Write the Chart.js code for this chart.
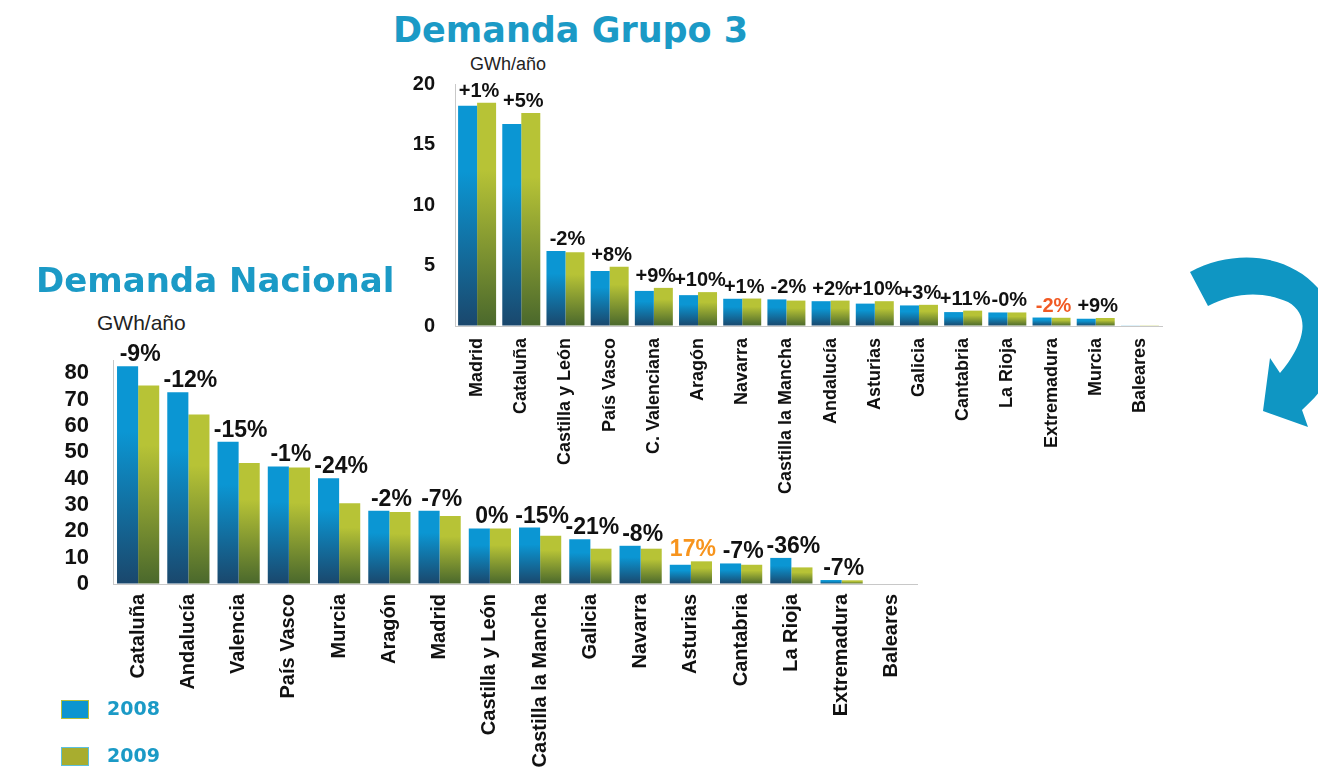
<!DOCTYPE html>
<html lang="es">
<head>
<meta charset="utf-8">
<title>Demanda Nacional / Demanda Grupo 3</title>
<script src="https://cdn.jsdelivr.net/npm/chart.js@4.4.0/dist/chart.umd.min.js"></script>
<style>
  body { margin: 0; width: 1318px; height: 773px; background: #fff; position: relative; overflow: hidden;
         font-family: 'Liberation Sans', Arial, sans-serif; }
  .titulo { position: absolute; font-family: 'DejaVu Sans', Verdana, sans-serif; font-weight: bold;
            font-size: 34px; line-height: 1; color: #1b9ac6; white-space: nowrap; }
  .unidad { position: absolute; line-height: 1; color: #222; white-space: nowrap; }
  .leyenda { position: absolute; font-family: 'DejaVu Sans', Verdana, sans-serif; font-weight: bold;
             font-size: 19px; line-height: 1; color: #1b9ac6; }
  .caja { position: absolute; width: 26px; height: 17px; }
  canvas { position: absolute; }
  svg { position: absolute; left: 0; top: 0; }
</style>
</head>
<body>

<div class="titulo" style="left:393px; top:13px; font-size:35px;">Demanda Grupo 3</div>
<div class="unidad" style="left:470px; top:55px; font-size:18px;">GWh/año</div>
<canvas id="chartGrupo" width="790" height="440" style="left:390px; top:70px;"></canvas>

<div class="titulo" style="left:36px; top:263px;">Demanda Nacional</div>
<div class="unidad" style="left:97px; top:312px; font-size:21px;">GWh/año</div>
<canvas id="chartNacional" width="900" height="433" style="left:40px; top:340px;"></canvas>

<div class="caja" style="left:61px; top:700px; background:#0b95d0; border:1px solid #b3bf3a;"></div>
<div class="leyenda" style="left:107px; top:699px;">2008</div>
<div class="caja" style="left:61px; top:747px; background:#a8ad2f; border:1px solid #5cc0e0;"></div>
<div class="leyenda" style="left:107px; top:746px;">2009</div>

<!-- curved arrow from the regional group down to the national chart -->
<svg width="1318" height="773">
  <path d="M1190,272 C1250,240 1325,262 1338,330 C1342,368 1322,392 1302,410 L1308,427 L1263,411 L1270,358 L1280,373
           C1298,352 1316,318 1288,302 C1262,290 1232,293 1208,306 Z" fill="#0f96c3"/>
</svg>

<script>
// Demanda Grupo 3 (GWh/año)
const grupoRegiones = ['Madrid', 'Cataluña', 'Castilla y León', 'País Vasco', 'C. Valenciana', 'Aragón',
  'Navarra', 'Castilla la Mancha', 'Andalucía', 'Asturias', 'Galicia', 'Cantabria', 'La Rioja',
  'Extremadura', 'Murcia', 'Baleares'];
const grupo2008 = [18.2, 16.7, 6.2, 4.55, 2.9, 2.55, 2.25, 2.2, 2.05, 1.85, 1.7, 1.15, 1.12, 0.7, 0.6, 0.03];
const grupo2009 = [18.45, 17.6, 6.1, 4.9, 3.15, 2.8, 2.27, 2.1, 2.1, 2.05, 1.75, 1.27, 1.12, 0.68, 0.66, 0.06];
const grupoCambio = ['+1%', '+5%', '-2%', '+8%', '+9%', '+10%', '+1%', '-2%', '+2%', '+10%', '+3%',
  '+11%', '-0%', '-2%', '+9%', ''];
const grupoTicks = [0, 5, 10, 15, 20];

// Demanda Nacional (GWh/año)
const nacRegiones = ['Cataluña', 'Andalucía', 'Valencia', 'País Vasco', 'Murcia', 'Aragón', 'Madrid',
  'Castilla y León', 'Castilla la Mancha', 'Galicia', 'Navarra', 'Asturias', 'Cantabria', 'La Rioja',
  'Extremadura', 'Baleares'];
const nac2008 = [82.6, 72.8, 54, 44.6, 40.1, 27.8, 27.8, 21.1, 21.4, 17, 14.5, 7.3, 7.8, 9.9, 1.5, 0];
const nac2009 = [75.3, 64.3, 45.9, 44.2, 30.6, 27.3, 25.8, 21.1, 18.3, 13.4, 13.4, 8.6, 7.3, 6.3, 1.4, 0];
const nacCambio = ['-9%', '-12%', '-15%', '-1%', '-24%', '-2%', '-7%', '0%', '-15%', '-21%', '-8%',
  '17%', '-7%', '-36%', '-7%', ''];
const nacTicks = [0, 10, 20, 30, 40, 50, 60, 70, 80];

Chart.defaults.font.family = "'Liberation Sans', Arial, sans-serif";

// vertical gradient per bar: bright at the top, dark at the base
function barFill(light, dark) {
  return function(ctx) {
    const chart = ctx.chart;
    if (!chart.chartArea || ctx.type !== 'data') return light;
    const y = chart.scales.y;
    const y0 = y.getPixelForValue(ctx.raw);
    const y1 = y.getPixelForValue(0);
    if (y1 - y0 < 1) return light;
    const g = chart.ctx.createLinearGradient(0, y0, 0, y1);
    g.addColorStop(0, light);
    g.addColorStop(0.3, light);
    g.addColorStop(1, dark);
    return g;
  };
}

// % change written above each pair of bars
const cambioLabels = {
  id: 'cambioLabels',
  afterDatasetsDraw(chart, args, opts) {
    const ctx = chart.ctx;
    const a = chart.getDatasetMeta(0).data;
    const b = chart.getDatasetMeta(1).data;
    ctx.save();
    ctx.font = 'bold ' + opts.size + "px 'Liberation Sans', Arial, sans-serif";
    ctx.textAlign = 'center';
    ctx.textBaseline = 'alphabetic';
    opts.texts.forEach((t, i) => {
      if (!t) return;
      const x = (a[i].x + b[i].x) / 2 + 2;
      const y = Math.min(a[i].y, b[i].y) - opts.gap;
      ctx.fillStyle = opts.highlight[i] || '#111';
      ctx.fillText(t, x, y);
    });
    ctx.restore();
  }
};

function buildChart(id, labels, d2008, d2009, cambio, ticks, o) {
  return new Chart(document.getElementById(id), {
    type: 'bar',
    data: {
      labels: labels,
      datasets: [
        { label: '2008', data: d2008, backgroundColor: barFill('#0b96d3', '#1a476c'),
          categoryPercentage: o.cat, barPercentage: 1 },
        { label: '2009', data: d2009, backgroundColor: barFill('#b7c336', '#4a682c'),
          categoryPercentage: o.cat, barPercentage: 1 }
      ]
    },
    options: {
      responsive: false,
      animation: false,
      layout: { padding: { top: o.top, right: o.right, left: 0, bottom: 0 } },
      plugins: {
        legend: { display: false },
        tooltip: { enabled: false },
        cambioLabels: { texts: cambio, size: o.pctFont, gap: o.gap, highlight: o.highlight }
      },
      scales: {
        x: {
          grid: { display: true, drawOnChartArea: false, drawTicks: false },
          border: { color: '#c8c8c8' },
          ticks: { autoSkip: false, minRotation: 90, maxRotation: 90, padding: o.xPad,
                   color: '#111', font: { size: o.xFont, weight: 'bold' } },
          afterFit: function(s) { s.height = o.xHeight; }
        },
        y: {
          min: 0, max: o.max,
          // invisible tick marks keep the labels away from the axis line
          grid: { display: true, drawOnChartArea: false, drawTicks: true, tickLength: o.yGap,
                  tickColor: 'rgba(0,0,0,0)' },
          border: { color: '#c8c8c8' },
          ticks: { autoSkip: false, padding: 2, color: '#111',
                   font: { size: o.yFont, weight: 'bold', lineHeight: 1 } },
          afterBuildTicks: function(s) { s.ticks = ticks.map(v => ({ value: v })); },
          afterFit: function(s) { s.width = o.yWidth; }
        }
      }
    },
    plugins: [cambioLabels]
  });
}

const chartGrupo = buildChart('chartGrupo', grupoRegiones, grupo2008, grupo2009, grupoCambio, grupoTicks, {
  cat: 0.86, max: 20, top: 14, right: 18, yWidth: 65, xHeight: 184, yGap: 18,
  xPad: 12, xFont: 18, yFont: 20, pctFont: 20, gap: 6, highlight: { 13: '#f15a24' }
});

const chartNacional = buildChart('chartNacional', nacRegiones, nac2008, nac2009, nacCambio, nacTicks, {
  cat: 0.84, max: 85, top: 20, right: 23, yWidth: 73, xHeight: 189, yGap: 22,
  xPad: 10, xFont: 20, yFont: 22, pctFont: 23, gap: 5, highlight: { 11: '#f7941d' }
});
</script>
</body>
</html>
